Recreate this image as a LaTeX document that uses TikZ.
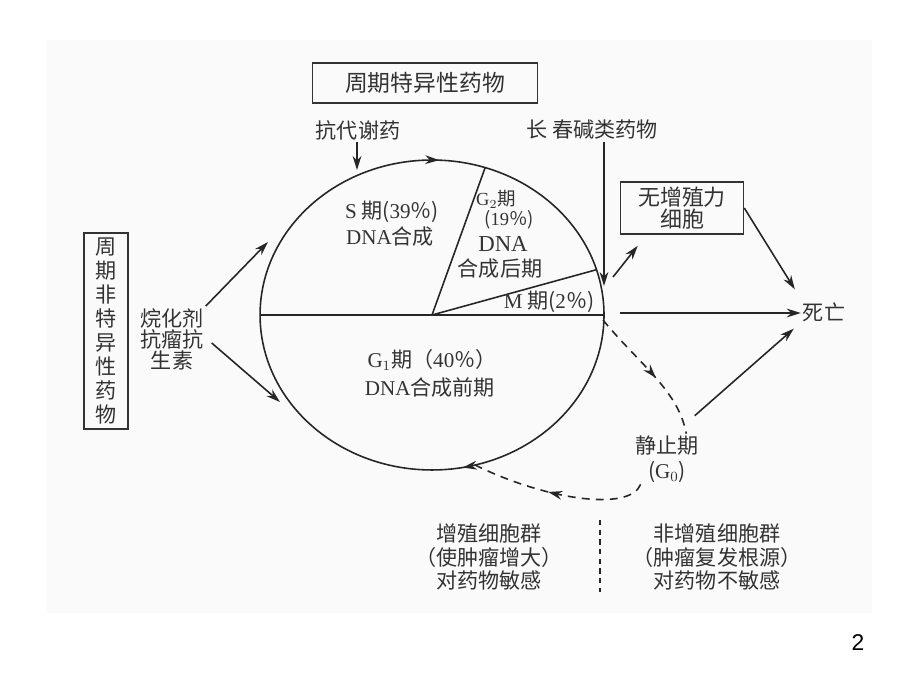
\documentclass[tikz,border=0pt]{standalone}
\usepackage{fontspec}
\setmainfont{Liberation Serif}
\setsansfont{Liberation Sans}
\newfontfamily\cjk{Noto Sans CJK SC}
\newcommand{\la}[1]{{\rmfamily #1}}
\usetikzlibrary{arrows.meta,decorations.markings}

\begin{document}
\begin{tikzpicture}[x=0.02cm,y=-0.02cm]

        \tikzstyle{txt}=[inner sep=1pt,text=black!80,font=\cjk\fontsize{12}{13.6}\selectfont]
        \tikzstyle{small}=[txt,font=\cjk\fontsize{10.5}{12}\selectfont]
        \tikzstyle{drugbox}=[txt,draw=black!80,line width=0.9pt,align=center]
        \tikzstyle{arr}=[line width=0.9pt,draw=black!85,-{Stealth[length=8pt,width=5pt]}]
        \tikzstyle{ring}=[line width=0.9pt,draw=black!85]
        \tikzstyle{dashline}=[ring,dash pattern=on 4.5pt off 3.5pt]
        \tikzset{midarr/.style={postaction={decorate,decoration={markings,
            mark=at position #1 with {\arrow{Stealth[length=8pt,width=5pt]}}}}}}

        \useasboundingbox (0,0) rectangle (920,690);
        \fill[black!2] (47,40) rectangle (872,613);

        %% the cycle
        \coordinate (cc) at (432,315);
        \coordinate (rt) at (604,315);
        \coordinate (lf) at (260,315);
        \coordinate (sg) at ({432+172*cos(72)},{315-155*sin(72)});
        \coordinate (gm) at ({432+172*cos(17)},{315-155*sin(17)});
        \draw[ring,postaction={decorate,decoration={markings,
            mark=at position 0.22 with {\arrow{Stealth[length=8pt,width=5pt]}},
            mark=at position 0.757 with {\arrow{Stealth[length=8pt,width=5pt]}}}}]
            (rt) arc[start angle=0,end angle=-360,x radius=3.44cm,y radius=3.1cm];
        \draw[ring] (lf) -- (rt);
        \draw[ring] (cc) -- (sg);
        \draw[ring] (cc) -- (gm);

        \node[txt] (sph) at (392,212) {\la{S} 期(\la{39}％)};
        \node[txt] (sdna) at (390,237) {\la{DNA}合成};
        \node[small] (g2a) at (496,199) {\la{G}$_2$期};
        \node[small] (g2b) at (509,220) {(\la{19}％)};
        \node[txt,font=\cjk\fontsize{13}{15}\selectfont] (g2c) at (503,244) {\la{DNA}};
        \node[txt] (g2d) at (500,269) {合成后期};
        \node[txt] (mph) at (549,302) {\la{M} 期(\la{2}％)};
        \node[txt] (g1a) at (432,360) {\la{G}$_1$期（\la{40}％）};
        \node[txt] (g1b) at (430,388) {\la{DNA}合成前期};

        %% drugs
        \node[drugbox,minimum width=0.88cm,minimum height=3.92cm] (nonspec) at (106,331)
            {周\\期\\非\\特\\异\\性\\药\\物};
        \node[txt,align=center,font=\cjk\fontsize{12}{12}\selectfont] (alk) at (172,339)
            {烷化剂\\抗瘤抗\\生素};
        \node[drugbox,minimum width=4.5cm,minimum height=0.8cm,font=\cjk\fontsize{13}{15}\selectfont]
            (spec) at (425,83) {周期特异性药物};
        \node[txt] (anti) at (358,130) {抗代谢药};
        \node[txt] (vinca) at (592,130) {长 春碱类药物};

        %% outcomes
        \node[drugbox,minimum width=2.46cm,minimum height=1.04cm,font=\cjk\fontsize{12.5}{12.5}\selectfont]
            (noprol) at (682,208) {无增殖力\\细胞};
        \node[txt] (death) at (824,312) {死亡};
        \node[txt,align=center,font=\cjk\fontsize{12}{14}\selectfont] (g0) at (667,459)
            {静止期\\(\la{G}$_0$)};
        \node[txt,align=center] (prolif) at (489,557)
            {增殖细胞群\\（使肿瘤增大）\\对药物敏感};
        \node[txt,align=center] (nonprolif) at (717,557)
            {非增殖细胞群\\（肿瘤复发根源）\\对药物不敏感};
        \node[font=\sffamily\fontsize{13}{15}\selectfont] (pg) at (858,643) {2};

        %% connectors
        \coordinate (stop) at (357,170);
        \coordinate (mtip) at (604,286);
        \coordinate (sin) at (268,242);
        \coordinate (gin) at (280,402);
        \coordinate (mout) at (613,277);
        \coordinate (mright) at (620,313);
        \coordinate (mdown) at (603,320);
        \coordinate (gback) at (473,464);

        \draw[arr] (anti.south -| stop) -- (stop);
        \draw[arr] (vinca.south -| mtip) -- (mtip);
        \draw[arr] (alk.north east) -- (sin);
        \draw[arr] ([shift={(6,4)}]alk.east) -- (gin);
        \draw[arr] (mout) -- ([shift={(18,11)}]noprol.south west);
        \draw[arr] (noprol.east) -- ([shift={(-6,-11)}]death.north west);
        \draw[arr] (mright) -- (mright -| death.west);
        \draw[arr] ([shift={(-6,-18)}]g0.north east) -- ([shift={(-7,5)}]death.south west);
        \draw[dashline,midarr=0.55] (mdown) .. controls (640,365) and (678,390) .. ([xshift=11]g0.north);
        \draw[dashline,midarr=0.55] ([xshift=-15]g0.south) .. controls (630,512) and (545,500) .. (gback);

        \draw[ring,dash pattern=on 3pt off 2.5pt] (600,520) -- (600,592);

\end{tikzpicture}
\end{document}
